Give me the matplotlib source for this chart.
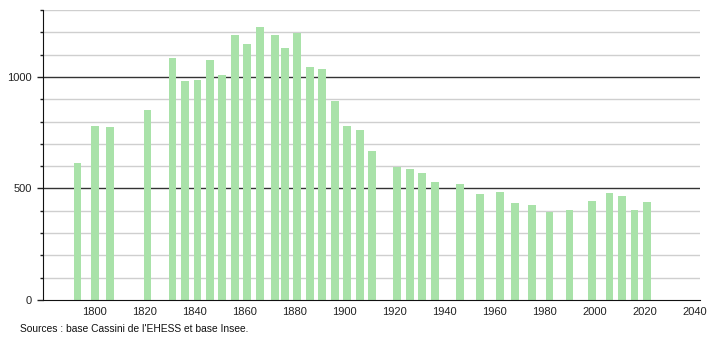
import matplotlib
matplotlib.use("Agg")
import matplotlib.pyplot as plt

years = [1793, 1800, 1806, 1821, 1831, 1836, 1841, 1846, 1851, 1856, 1861, 1866,
         1872, 1876, 1881, 1886, 1891, 1896, 1901, 1906, 1911, 1921, 1926, 1931,
         1936, 1946, 1954, 1962, 1968, 1975, 1982, 1990, 1999, 2006, 2011, 2016, 2021]
population = [615, 780, 777, 850, 1087, 981, 985, 1074, 1008, 1188, 1147, 1226,
              1190, 1130, 1199, 1044, 1035, 890, 780, 760, 670, 595, 588, 570,
              530, 518, 473, 483, 435, 428, 393, 405, 445, 480, 465, 405, 441]
x_ticks = [1800, 1820, 1840, 1860, 1880, 1900, 1920, 1940, 1960, 1980, 2000, 2020, 2040]
y_major = [0, 500, 1000]
y_minor = [100, 200, 300, 400, 600, 700, 800, 900, 1100, 1200, 1300]
source = "Sources : base Cassini de l'EHESS et base Insee."

plt.rcParams['font.family'] = ['Liberation Sans', 'DejaVu Sans']

fig = plt.figure(figsize=(7.1, 3.4), dpi=100)
ax = fig.add_axes([43/710, 40/340, 657/710, 290/340])

for v in y_minor:
    ax.axhline(v, color='#cfcfcf', lw=1, zorder=1)
for v in y_major[1:]:
    ax.axhline(v, color='#333333', lw=1, zorder=1)

ax.bar(years, population, width=3.1, color='#a9e2a9', zorder=2)

ax.set_xlim(1779.2, 2042.2)
ax.set_ylim(0, 1300)
ax.set_xticks(x_ticks)
ax.set_xticklabels([str(t) for t in x_ticks])
ax.set_yticks(y_major)
ax.set_yticklabels([str(t) for t in y_major])
ax.set_yticks(y_minor, minor=True)
ax.tick_params(axis='x', length=0, labelsize=8, pad=5, colors='#222222')
ax.tick_params(axis='y', which='major', length=4, width=1, labelsize=8, pad=4, colors='#222222')
ax.tick_params(axis='y', which='minor', length=2, width=1, color='#222222')

for s in ['top', 'right']:
    ax.spines[s].set_visible(False)
ax.spines['left'].set_color('#111111')
ax.spines['bottom'].set_color('#111111')

fig.text(20/710, 1 - 329/340, source, fontsize=7.4, va='center', ha='left', color='#111111')

fig.savefig('out.png', dpi=100)
